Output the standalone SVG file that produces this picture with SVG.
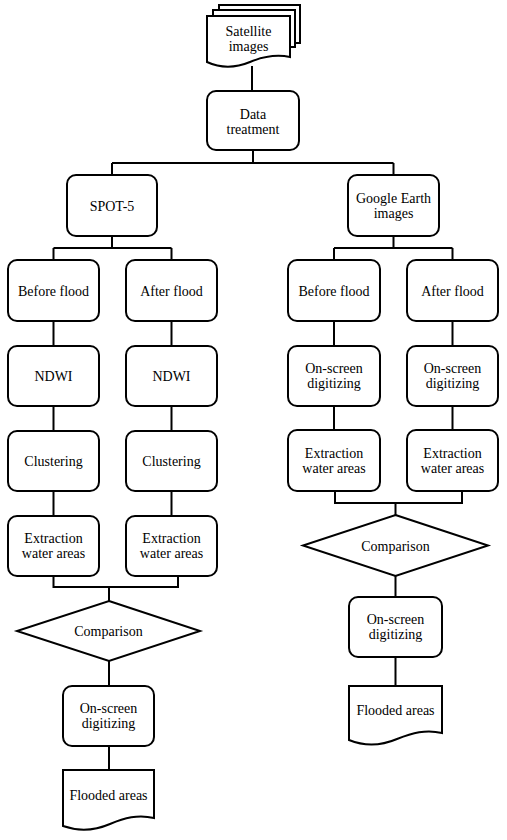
<svg xmlns="http://www.w3.org/2000/svg" width="507" height="840" viewBox="0 0 507 840">
<style>
.n{fill:#fff;stroke:#000;stroke-width:2}
.c{fill:none;stroke:#000;stroke-width:2}
text{font-family:"Liberation Serif","Times New Roman",serif;font-size:14px;fill:#000;text-anchor:middle}
</style>
<rect width="507" height="840" fill="#fff"/>
<g id="connectors">
<path class="c" d="M252,66V91"/>
<path class="c" d="M253,150V163M112,163H393.5M112,163V175M393.5,163V175"/>
<path class="c" d="M112,236V248M53.5,248H171.5M53.5,248V260M171.5,248V260"/>
<path class="c" d="M393.5,236V248M334,248H452.5M334,248V260M452.5,248V260"/>
<path class="c" d="M53.5,321V346M53.5,406V431M53.5,491V516"/>
<path class="c" d="M171.5,321V346M171.5,406V431M171.5,491V516"/>
<path class="c" d="M334,321V346M334,406V430M452.5,321V346M452.5,406V430"/>
<path class="c" d="M53.5,576V587H178V576M109,587V601M109,661V686M109,746V770"/>
<path class="c" d="M335,491V503H462V491M395.5,503V515M395.5,576V597M395.5,657V686"/>
</g>
<g id="satellite">
<rect class="n" x="219" y="5" width="81" height="38"/>
<rect class="n" x="213" y="10" width="82" height="37"/>
<path class="n" d="M207,16H290V57C275,54 262,57 250,62C238,67 222,69 207,62Z"/>
<text x="248.5" y="36">Satellite</text>
<text x="248.5" y="51">images</text>
</g>
<g id="data-treatment">
<rect class="n" x="207" y="91" width="92" height="59" rx="9"/>
<text x="253" y="119">Data</text>
<text x="253" y="134">treatment</text>
</g>
<g id="spot5">
<rect class="n" x="67" y="175" width="90" height="61" rx="9"/>
<text x="112" y="211">SPOT-5</text>
</g>
<g id="google">
<rect class="n" x="348" y="175" width="91" height="61" rx="9"/>
<text x="393.5" y="203">Google Earth</text>
<text x="393.5" y="218">images</text>
</g>
<g id="l-before">
<rect class="n" x="8" y="260" width="91" height="61" rx="9"/>
<text x="53.5" y="296">Before flood</text>
</g>
<g id="l-after">
<rect class="n" x="126" y="260" width="91" height="61" rx="9"/>
<text x="171.5" y="296">After flood</text>
</g>
<g id="r-before">
<rect class="n" x="288" y="260" width="92" height="61" rx="9"/>
<text x="334" y="296">Before flood</text>
</g>
<g id="r-after">
<rect class="n" x="407" y="260" width="91" height="61" rx="9"/>
<text x="452.5" y="296">After flood</text>
</g>
<g id="l-ndwi1">
<rect class="n" x="8" y="346" width="91" height="60" rx="9"/>
<text x="53.5" y="381">NDWI</text>
</g>
<g id="l-ndwi2">
<rect class="n" x="126" y="346" width="91" height="60" rx="9"/>
<text x="171.5" y="381">NDWI</text>
</g>
<g id="r-osd1">
<rect class="n" x="288" y="346" width="92" height="60" rx="9"/>
<text x="334" y="373">On-screen</text>
<text x="334" y="388">digitizing</text>
</g>
<g id="r-osd2">
<rect class="n" x="407" y="346" width="91" height="60" rx="9"/>
<text x="452.5" y="373">On-screen</text>
<text x="452.5" y="388">digitizing</text>
</g>
<g id="l-clust1">
<rect class="n" x="8" y="431" width="91" height="60" rx="9"/>
<text x="53.5" y="466">Clustering</text>
</g>
<g id="l-clust2">
<rect class="n" x="126" y="431" width="91" height="60" rx="9"/>
<text x="171.5" y="466">Clustering</text>
</g>
<g id="r-ext1">
<rect class="n" x="288" y="430" width="92" height="61" rx="9"/>
<text x="334" y="458">Extraction</text>
<text x="334" y="473">water areas</text>
</g>
<g id="r-ext2">
<rect class="n" x="407" y="430" width="91" height="61" rx="9"/>
<text x="452.5" y="458">Extraction</text>
<text x="452.5" y="473">water areas</text>
</g>
<g id="l-ext1">
<rect class="n" x="8" y="516" width="91" height="60" rx="9"/>
<text x="53.5" y="543">Extraction</text>
<text x="53.5" y="558">water areas</text>
</g>
<g id="l-ext2">
<rect class="n" x="126" y="516" width="91" height="60" rx="9"/>
<text x="171.5" y="543">Extraction</text>
<text x="171.5" y="558">water areas</text>
</g>
<g id="l-comparison">
<path class="n" d="M109,601L200,631L109,661L17,631Z"/>
<text x="108.5" y="636">Comparison</text>
</g>
<g id="r-comparison">
<path class="n" d="M395.5,515L488,545.5L395.5,576L303,545.5Z"/>
<text x="395.5" y="550.5">Comparison</text>
</g>
<g id="l-osd">
<rect class="n" x="63" y="686" width="91" height="60" rx="9"/>
<text x="108.5" y="713">On-screen</text>
<text x="108.5" y="728">digitizing</text>
</g>
<g id="r-osd">
<rect class="n" x="349" y="597" width="93" height="60" rx="9"/>
<text x="395.5" y="624">On-screen</text>
<text x="395.5" y="639">digitizing</text>
</g>
<g id="l-flooded">
<path class="n" d="M63,770H154V818C138,814 124,818 110,824C96,830 80,832 63,826Z"/>
<text x="108.5" y="800">Flooded areas</text>
</g>
<g id="r-flooded">
<path class="n" d="M349,686H442V733C426,729 412,733 397,739C383,745 366,747 349,740Z"/>
<text x="395.5" y="715">Flooded areas</text>
</g>
</svg>
